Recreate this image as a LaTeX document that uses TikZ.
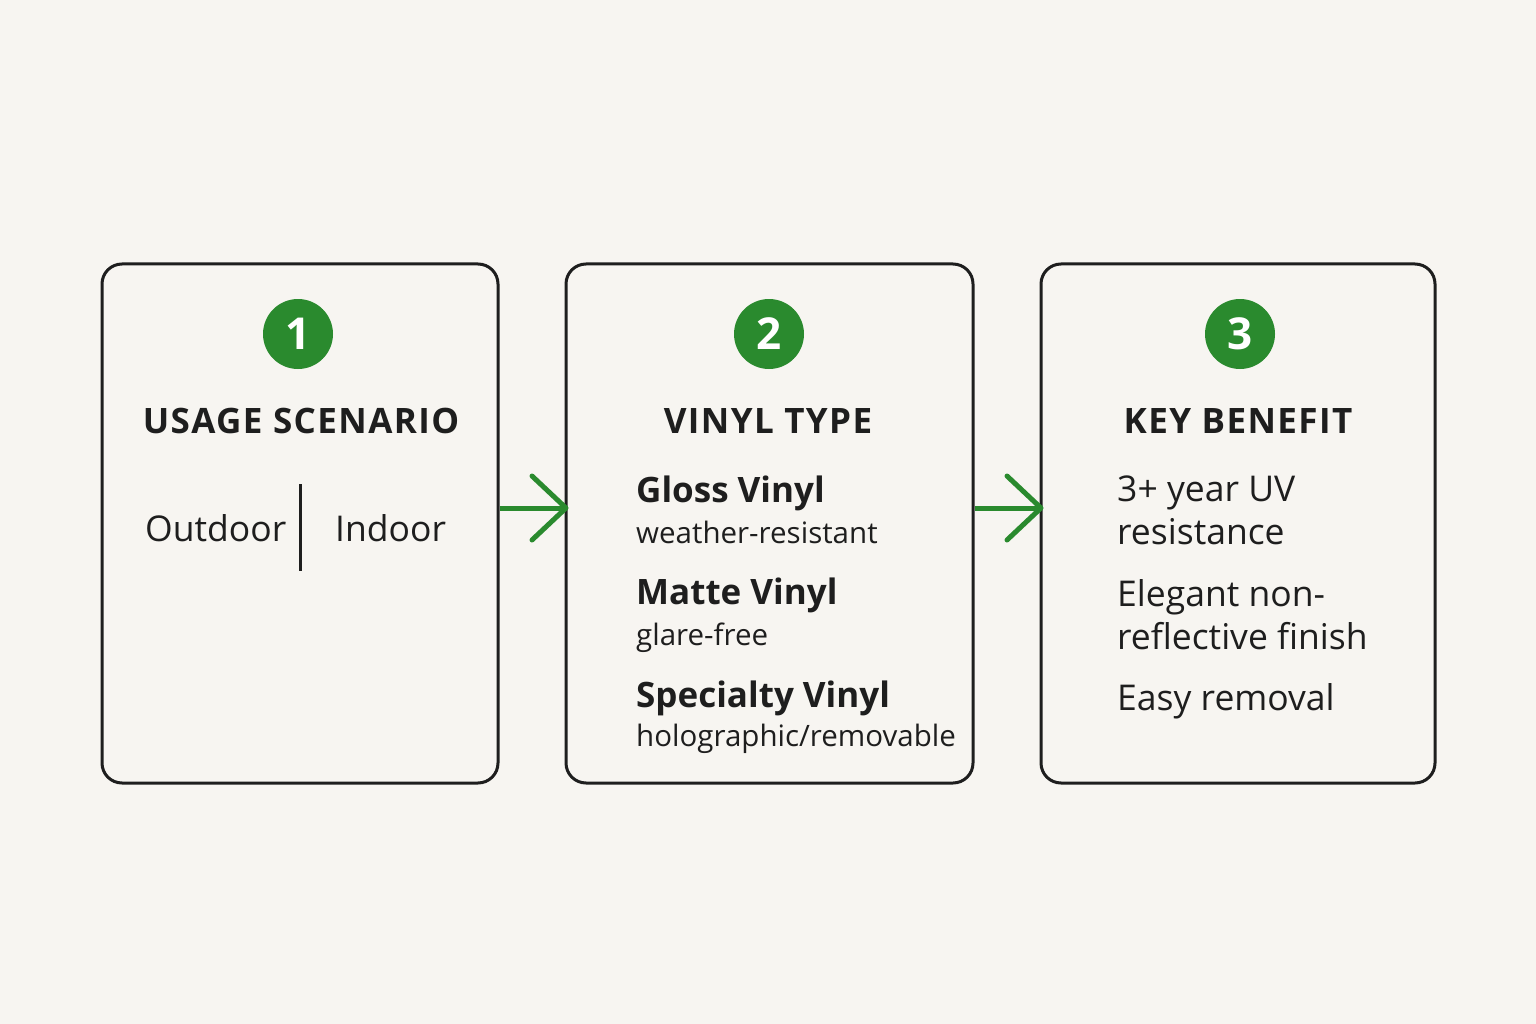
\documentclass[tikz,border=0pt]{standalone}
\usepackage{fontspec}
\setmainfont{Open Sans}
\newfontfamily\headfont[LetterSpace=4]{Open Sans}
\usetikzlibrary{arrows.meta}
\definecolor{paper}{HTML}{F7F5F1}
\definecolor{ink}{HTML}{1E1E1E}
\definecolor{stepgreen}{HTML}{2A8A2E}
\begin{document}
\begin{tikzpicture}[x=1pt, y=-1pt,
    card/.style={shape = rectangle, draw = ink, line width = 3pt, rounded corners = 20pt, fill = paper, minimum height = 519pt, inner sep = 0pt},
    stepdot/.style={shape = circle, fill = stepgreen, minimum size = 70pt, inner sep = 0pt, text = white, font = \fontsize{44}{48}\selectfont\bfseries},
    title/.style={anchor = base, text = ink, font = \headfont\fontsize{35}{40}\selectfont\bfseries},
    item/.style={anchor = base west, text = ink, inner sep = 0pt, font = \fontsize{35.5}{40}\selectfont},
    itembold/.style={item, font = \fontsize{35}{40}\selectfont\bfseries},
    note/.style={item, font = \fontsize{29.5}{36}\selectfont},
    flow/.style={draw = stepgreen, line width = 5pt, -{Straight Barb[length = 34pt, width = 64pt, round]}}]
    \useasboundingbox [fill = paper] (0, 0) rectangle (1536, 1024);
    % cards
    \node (Usage) [card, minimum width = 396pt] at (300, 523.5) {};
    \node (Vinyl) [card, minimum width = 407pt] at (769.5, 523.5) {};
    \node (Benefit) [card, minimum width = 394pt] at (1238, 523.5) {};
    % step numbers
    \node (UsageStep) [stepdot] at (298, 334) {1};
    \node (VinylStep) [stepdot] at (769, 334) {2};
    \node (BenefitStep) [stepdot] at (1240, 334) {3};
    % titles
    \node (UsageTitle) [title] at (301, 433) {USAGE SCENARIO};
    \node (VinylTitle) [title] at (768, 433) {VINYL TYPE};
    \node (BenefitTitle) [title] at (1238, 433) {KEY BENEFIT};
    % usage
    \node (Outdoor) [item] at (145, 541) {Outdoor};
    \node (Indoor) [item] at (335, 541) {Indoor};
    \draw [ink, line width = 3pt] (300, 484) -- (300, 571);
    % vinyl
    \node (Gloss) [itembold] at (636, 502) {Gloss Vinyl};
    \node (GlossNote) [note] at (636, 543) {weather-resistant};
    \node (Matte) [itembold] at (636, 604) {Matte Vinyl};
    \node (MatteNote) [note] at (636, 645) {glare-free};
    \node (Specialty) [itembold] at (636, 707) {Specialty Vinyl};
    \node (SpecialtyNote) [note] at (636, 746) {holographic/removable};
    % benefit
    \node (UvOne) [item] at (1117, 501) {3+ year UV};
    \node (UvTwo) [item] at (1117, 544) {resistance};
    \node (FinishOne) [item] at (1117, 606) {Elegant non-};
    \node (FinishTwo) [item] at (1117, 649) {reflective finish};
    \node (Removal) [item] at (1117, 710) {Easy removal};
    % arrows
    \draw [flow] ([yshift = 15.5pt]Usage.east) -- ([xshift = 4pt, yshift = 15.5pt]Vinyl.west);
    \draw [flow] ([yshift = 15.5pt]Vinyl.east) -- ([xshift = 4pt, yshift = 15.5pt]Benefit.west);
\end{tikzpicture}
\end{document}
